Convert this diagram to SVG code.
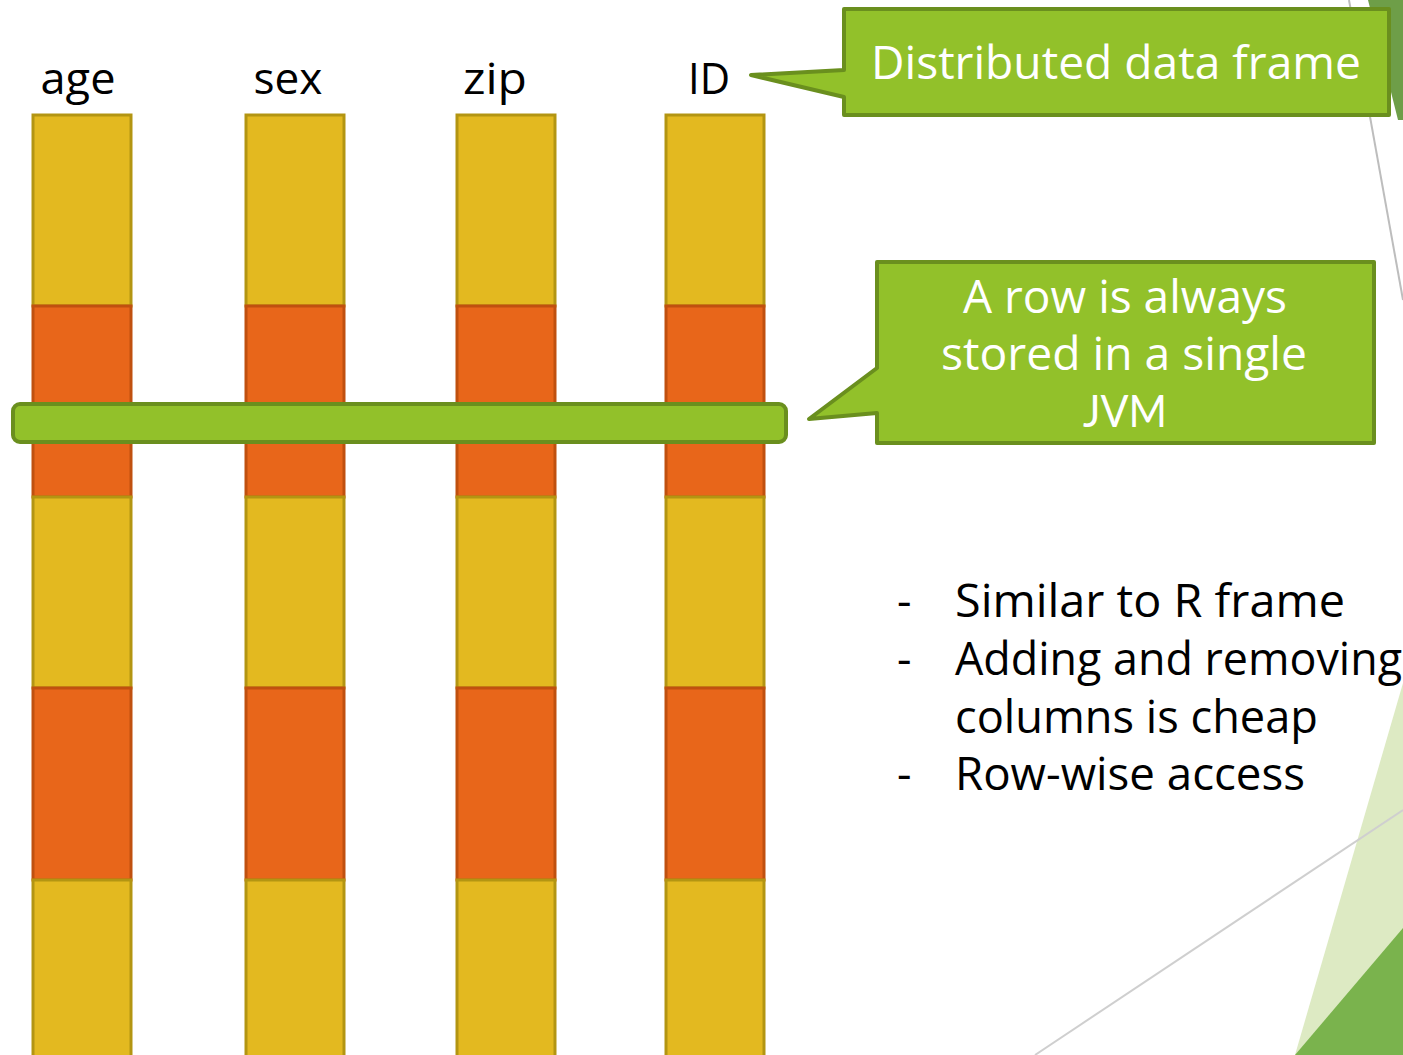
<svg xmlns="http://www.w3.org/2000/svg" width="1403" height="1055" viewBox="0 0 1403 1055">
  <style>
    .y { fill: #E3B920; stroke: #B39512; stroke-width: 3; }
    .o { fill: #E8661A; stroke: #C0500F; stroke-width: 3; }
    .g { fill: #92C12A; stroke: #6A8F1E; stroke-width: 4; stroke-linejoin: round; }
    .hd { font-family: "Open Sans", "Lato", sans-serif; font-size: 44px; fill: #000; text-anchor: middle; }
    .cw { font-family: "Open Sans", "Lato", sans-serif; font-size: 45px; fill: #fff; text-anchor: middle; }
    .bl { font-family: "Open Sans", "Lato", sans-serif; font-size: 45px; fill: #000; }
  </style>

  <!-- background decoration -->
  <g id="decor">
    <polygon points="1368,0 1403,0 1403,120 1398,120" fill="#6E9E48"/>
    <line x1="1349" y1="0" x2="1403" y2="300" stroke="#BDBDBD" stroke-width="2"/>
    <polygon points="1403,683 1403,1055 1295,1055" fill="#DDEAC3"/>
    <polygon points="1403,928 1403,1055 1295,1055" fill="#7AB34D"/>
    <line x1="1403" y1="810" x2="1035" y2="1055" stroke="#CFCFCF" stroke-width="2"/>
  </g>

  <!-- column headers -->
  <g id="headers">
    <text class="hd" x="78" y="94" textLength="75" lengthAdjust="spacingAndGlyphs">age</text>
    <text class="hd" x="288" y="94" textLength="69" lengthAdjust="spacingAndGlyphs">sex</text>
    <text class="hd" x="495" y="94" textLength="64" lengthAdjust="spacingAndGlyphs">zip</text>
    <text class="hd" x="709" y="94" textLength="42" lengthAdjust="spacingAndGlyphs">ID</text>
  </g>

  <!-- columns: alternating partitions -->
  <g id="col-age">
    <rect class="y" x="33" y="115" width="98" height="191"/>
    <rect class="o" x="33" y="306" width="98" height="191"/>
    <rect class="y" x="33" y="497" width="98" height="191"/>
    <rect class="o" x="33" y="688" width="98" height="192"/>
    <rect class="y" x="33" y="880" width="98" height="185"/>
  </g>
  <g id="col-sex">
    <rect class="y" x="246" y="115" width="98" height="191"/>
    <rect class="o" x="246" y="306" width="98" height="191"/>
    <rect class="y" x="246" y="497" width="98" height="191"/>
    <rect class="o" x="246" y="688" width="98" height="192"/>
    <rect class="y" x="246" y="880" width="98" height="185"/>
  </g>
  <g id="col-zip">
    <rect class="y" x="457" y="115" width="98" height="191"/>
    <rect class="o" x="457" y="306" width="98" height="191"/>
    <rect class="y" x="457" y="497" width="98" height="191"/>
    <rect class="o" x="457" y="688" width="98" height="192"/>
    <rect class="y" x="457" y="880" width="98" height="185"/>
  </g>
  <g id="col-id">
    <rect class="y" x="666" y="115" width="98" height="191"/>
    <rect class="o" x="666" y="306" width="98" height="191"/>
    <rect class="y" x="666" y="497" width="98" height="191"/>
    <rect class="o" x="666" y="688" width="98" height="192"/>
    <rect class="y" x="666" y="880" width="98" height="185"/>
  </g>

  <!-- row band -->
  <g id="row">
    <rect class="g" x="13" y="404" width="773" height="38" rx="7"/>
  </g>

  <!-- callouts -->
  <g id="callout-frame">
    <path class="g" d="M844,9 H1389 V115 H844 V97 L751,75 L844,70 Z"/>
    <text class="cw" x="1116" y="79" textLength="490" lengthAdjust="spacingAndGlyphs">Distributed data frame</text>
  </g>
  <g id="callout-row">
    <path class="g" d="M877,262 H1374 V443 H877 V413 L809,419 L877,368 Z"/>
    <text class="cw" x="1125" y="313" textLength="324" lengthAdjust="spacingAndGlyphs">A row is always</text>
    <text class="cw" x="1124" y="370" textLength="366" lengthAdjust="spacingAndGlyphs">stored in a single</text>
    <text class="cw" x="1125" y="427" textLength="84" lengthAdjust="spacingAndGlyphs" style="font-family: 'Lato', 'Open Sans', sans-serif">JVM</text>
  </g>

  <!-- bullet list -->
  <g id="notes">
    <text class="bl" x="897" y="617">-</text>
    <text class="bl" x="955" y="617" textLength="390" lengthAdjust="spacingAndGlyphs">Similar to R frame</text>
    <text class="bl" x="897" y="675">-</text>
    <text class="bl" x="955" y="675" textLength="447" lengthAdjust="spacingAndGlyphs">Adding and removing</text>
    <text class="bl" x="955" y="733" textLength="363" lengthAdjust="spacingAndGlyphs">columns is cheap</text>
    <text class="bl" x="897" y="790">-</text>
    <text class="bl" x="955" y="790" textLength="350" lengthAdjust="spacingAndGlyphs">Row-wise access</text>
  </g>
</svg>
